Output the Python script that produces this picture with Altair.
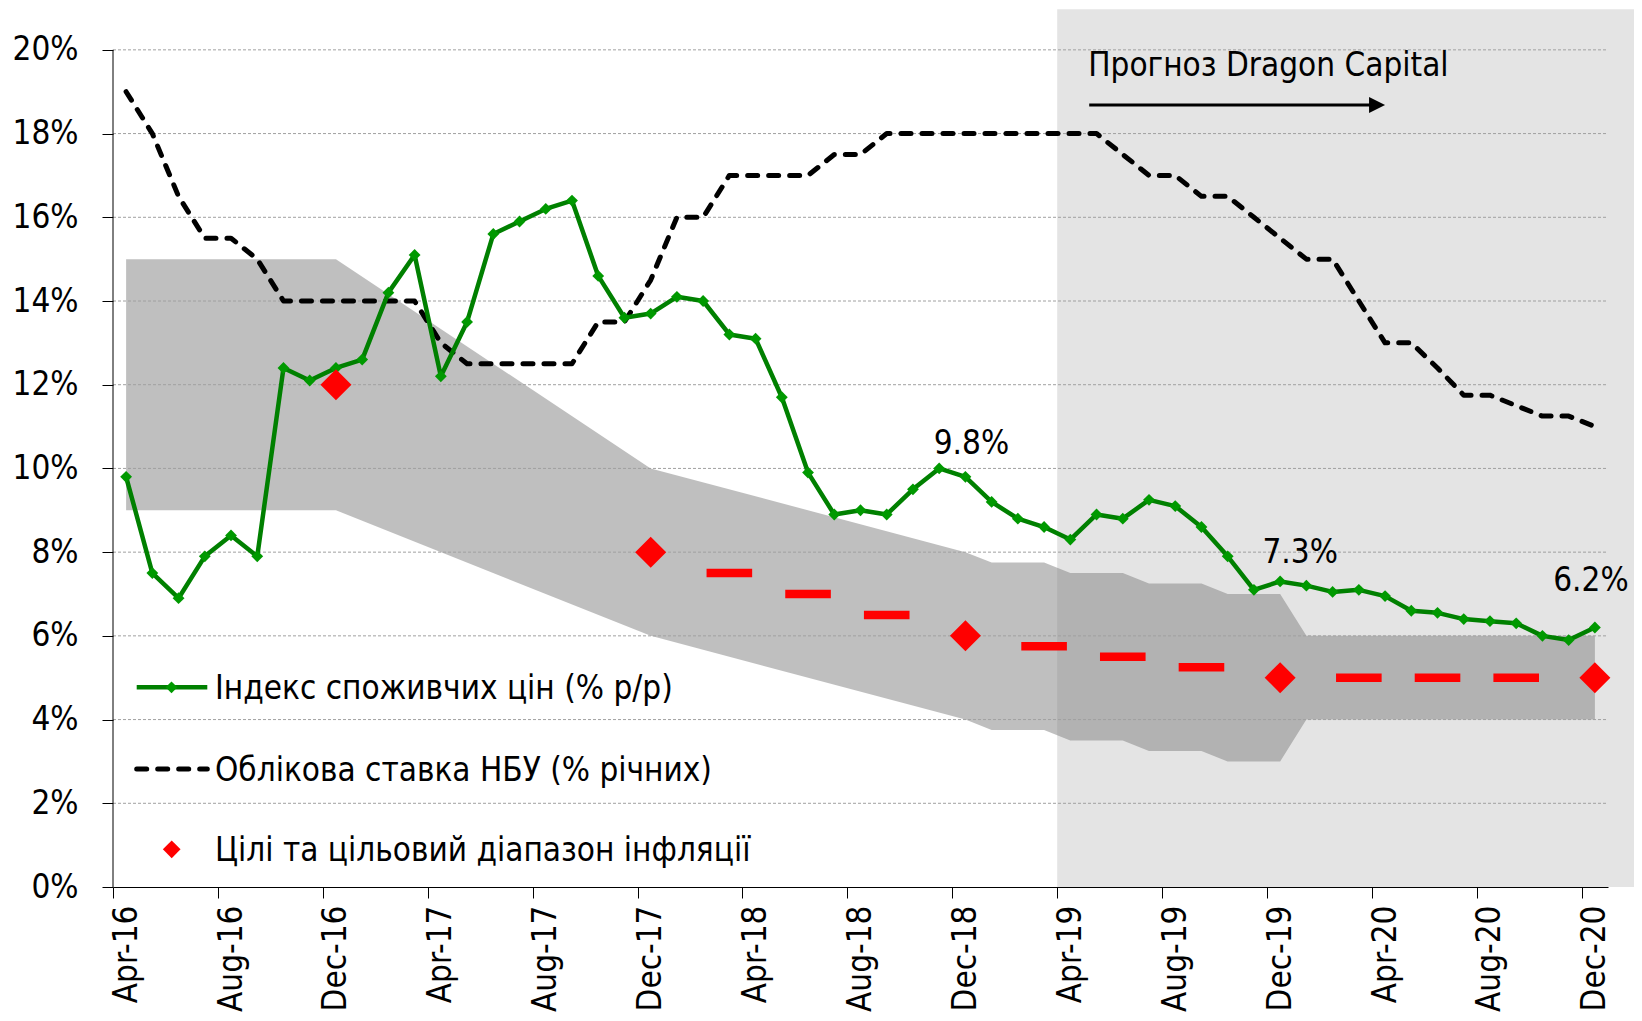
import altair as alt
import pandas as pd

FONT = "DejaVu Sans Condensed, DejaVu Sans, sans-serif"

# ---------------- data ----------------
mnames = ["Jan", "Feb", "Mar", "Apr", "May", "Jun", "Jul", "Aug", "Sep", "Oct", "Nov", "Dec"]
months = [f"{mnames[(3 + k) % 12]}-{16 + (3 + k) // 12}" for k in range(57)]  # Apr-16 .. Dec-20

cpi = [9.8, 7.5, 6.9, 7.9, 8.4, 7.9, 12.4, 12.1, 12.4,
       12.6, 14.2, 15.1, 12.2, 13.5, 15.6, 15.9, 16.2, 16.4, 14.6, 13.6, 13.7,
       14.1, 14.0, 13.2, 13.1, 11.7, 9.9, 8.9, 9.0, 8.9, 9.5, 10.0, 9.8,
       9.2, 8.8, 8.6, 8.3, 8.9, 8.8, 9.25, 9.1, 8.6, 7.9, 7.1, 7.3,
       7.2, 7.05, 7.1, 6.95, 6.6, 6.55, 6.4, 6.35, 6.3, 6.0, 5.9, 6.2]

rate = [19.0, 18.0, 16.5, 15.5, 15.5, 15.0, 14.0, 14.0, 14.0,
        14.0, 14.0, 14.0, 13.0, 12.5, 12.5, 12.5, 12.5, 12.5, 13.5, 13.5, 14.5,
        16.0, 16.0, 17.0, 17.0, 17.0, 17.0, 17.5, 17.5, 18.0, 18.0, 18.0, 18.0,
        18.0, 18.0, 18.0, 18.0, 18.0, 17.5, 17.0, 17.0, 16.5, 16.5, 16.0, 15.5,
        15.0, 15.0, 14.0, 13.0, 13.0, 12.4, 11.75, 11.75, 11.5, 11.25, 11.25, 11.0]

target_months = ["Dec-16", "Dec-17", "Dec-18", "Dec-19", "Dec-20"]
target_values = [12.0, 8.0, 6.0, 5.0, 5.0]

path_months = ["Mar-18", "Jun-18", "Sep-18", "Mar-19", "Jun-19", "Sep-19", "Mar-20", "Jun-20", "Sep-20"]
path_values = [7.5, 7.0, 6.5, 5.75, 5.5, 5.25, 5.0, 5.0, 5.0]

band_months = ["Apr-16", "Dec-16", "Dec-17", "Dec-18", "Jan-19", "Mar-19", "Apr-19", "Jun-19",
               "Jul-19", "Sep-19", "Oct-19", "Dec-19", "Jan-20", "Dec-20"]
band_upper = [15, 15, 10, 8, 7.75, 7.75, 7.5, 7.5, 7.25, 7.25, 7.0, 7.0, 6.0, 6.0]
band_lower = [9, 9, 6, 4, 3.75, 3.75, 3.5, 3.5, 3.25, 3.25, 3.0, 3.0, 4.0, 4.0]

y_ticks = [0, 2, 4, 6, 8, 10, 12, 14, 16, 18, 20]
x_tick_labels = ["Apr-16", "Aug-16", "Dec-16", "Apr-17", "Aug-17", "Dec-17", "Apr-18", "Aug-18",
                 "Dec-18", "Apr-19", "Aug-19", "Dec-19", "Apr-20", "Aug-20", "Dec-20"]

annotated = ["Dec-18", "Dec-19", "Dec-20"]
legend_labels = ["Індекс споживчих цін (% р/р)",
                 "Облікова ставка НБУ (% річних)",
                 "Цілі та цільовий діапазон інфляції"]
forecast_label = "Прогноз Dragon Capital"

# ---------------- tables ----------------
idx = {m: i for i, m in enumerate(months)}
main_df = pd.DataFrame({"m": list(range(len(months))), "month": months, "cpi": cpi, "rate": rate})
target_df = pd.DataFrame({"m": [idx[m] for m in target_months], "v": target_values})
path_df = pd.DataFrame({"m": [idx[m] for m in path_months], "v": path_values})
band_df = pd.DataFrame({"m": [idx[m] for m in band_months], "upper": band_upper, "lower": band_lower})
grid_df = pd.DataFrame({"t": y_ticks[1:]})
one = pd.DataFrame({"a": [0]})

forecast_start = idx["Apr-19"] - 0.5
arrow_end = idx["Apr-20"]

# ---------------- geometry ----------------
W, H = 1495, 879
N = len(months)
MW = W / N

xs = alt.Scale(domain=[-0.5, N - 0.5], nice=False, zero=False)
ys = alt.Scale(domain=[0, 21], nice=False, zero=False)

label_expr = "[" + ",".join(f"'{m}'" for m in months) + "][datum.value]"
x_axis = alt.Axis(values=[idx[m] for m in x_tick_labels], labelExpr=label_expr, labelAngle=-90,
                  tickOffset=-MW / 2, labelOffset=MW / 2, tickSize=11, labelPadding=7,
                  title=None, grid=False, labelOverlap=False, labelFont=FONT, labelFontSize=33,
                  labelColor="black", tickColor="black", domainColor="black", labelBound=False)
y_axis = alt.Axis(values=y_ticks, labelExpr="datum.value + '%'", tickSize=11, labelPadding=24,
                  domain=False, grid=False, title=None, labelFont=FONT, labelFontSize=33,
                  labelColor="black", tickColor="black", labelOverlap=False)


def X(field):
    return alt.X(f"{field}:Q", scale=xs, axis=x_axis)


def Y(field):
    return alt.Y(f"{field}:Q", scale=ys, axis=y_axis)


def XD(v):
    return alt.XDatum(v, type="quantitative", scale=xs, axis=x_axis)


def YD(v):
    return alt.YDatum(v, type="quantitative", scale=ys, axis=y_axis)


GREEN = "#008000"
GREEN_PT = "#009900"
RED = "#ff0000"

layers = []

# forecast background
layers.append(alt.Chart(one).mark_rect(color="#e4e4e4").encode(
    x=XD(forecast_start), x2=alt.value(W + 26), y=YD(20.97), y2=alt.Y2Datum(0)))

# target band
layers.append(alt.Chart(band_df).mark_area(color="#808080", opacity=0.5).encode(
    x=X("m"), y=Y("upper"), y2="lower:Q"))

# grid lines
layers.append(alt.Chart(grid_df).mark_rule(color="#a0a0a0", strokeDash=[3, 2], strokeWidth=1).encode(
    y=Y("t"), x=alt.value(0), x2=alt.value(W)))

# y axis line
layers.append(alt.Chart(one).mark_rule(color="black", strokeWidth=1).encode(
    x=alt.value(0), y=YD(y_ticks[-1]), y2=alt.Y2Datum(0)))

# key rate
layers.append(alt.Chart(main_df).mark_line(color="black", strokeWidth=5, strokeDash=[10, 11],
                                           strokeCap="round", strokeJoin="round").encode(
    x=X("m"), y=Y("rate")))

# CPI
layers.append(alt.Chart(main_df).mark_line(color=GREEN, strokeWidth=4.5, strokeJoin="round").encode(
    x=X("m"), y=Y("cpi")))
layers.append(alt.Chart(main_df).mark_point(shape="diamond", filled=True, size=140, color=GREEN_PT,
                                            opacity=1).encode(x=X("m"), y=Y("cpi")))

# targets
layers.append(alt.Chart(path_df).mark_tick(orient="horizontal", size=45.6, thickness=8.6, color=RED,
                                           opacity=1).encode(x=X("m"), y=Y("v")))
layers.append(alt.Chart(target_df).mark_point(shape="diamond", filled=True, size=961, color=RED,
                                              opacity=1).encode(x=X("m"), y=Y("v")))

# value annotations
offsets = {"Dec-18": (6, -23), "Dec-19": (20, -18), "Dec-20": (-4, -36)}
for lab in annotated:
    dx, dy = offsets[lab]
    layers.append(alt.Chart(main_df).transform_filter(alt.datum.month == lab).transform_calculate(
        txt="format(datum.cpi, '.1f') + '%'").mark_text(
        font=FONT, fontSize=33, color="black", align="center", baseline="alphabetic", dx=dx, dy=dy
    ).encode(x=X("m"), y=Y("cpi"), text="txt:N"))

# forecast label and arrow
layers.append(alt.Chart(one).mark_text(text=forecast_label, font=FONT, fontSize=33, color="black",
                                       align="left", baseline="alphabetic", dx=31, dy=26).encode(
    x=XD(forecast_start), y=YD(20)))
layers.append(alt.Chart(one).mark_rule(color="black", strokeWidth=3, xOffset=32, x2Offset=-14).encode(
    x=XD(forecast_start), x2=alt.X2Datum(arrow_end), y=alt.value(97)))
layers.append(alt.Chart(one).mark_point(shape="M-1,-1L1,0L-1,1Z", size=256, filled=True, color="black",
                                        opacity=1, xOffset=-8).encode(
    x=XD(arrow_end), y=alt.value(97)))

# legend (drawn inside plot)
LX0, LX1, LMID, LTX = 23.7, 94.3, 58.5, 102
rows = [679.3, 761.0, 841.3]
layers.append(alt.Chart(one).mark_rule(color=GREEN, strokeWidth=4.5).encode(
    x=alt.value(LX0), x2=alt.value(LX1), y=alt.value(rows[0])))
layers.append(alt.Chart(one).mark_point(shape="diamond", filled=True, size=140, color=GREEN_PT,
                                        opacity=1).encode(x=alt.value(LMID), y=alt.value(rows[0])))
layers.append(alt.Chart(one).mark_rule(color="black", strokeWidth=5, strokeDash=[10, 11],
                                       strokeCap="round").encode(
    x=alt.value(LX0), x2=alt.value(LX1), y=alt.value(rows[1])))
layers.append(alt.Chart(one).mark_point(shape="diamond", filled=True, size=313, color=RED,
                                        opacity=1).encode(x=alt.value(LMID + 0.2), y=alt.value(rows[2])))
for lab, ry in zip(legend_labels, rows):
    layers.append(alt.Chart(one).mark_text(text=lab, font=FONT, fontSize=33, color="black",
                                           align="left", baseline="alphabetic").encode(
        x=alt.value(LTX), y=alt.value(ry + 12)))

chart = alt.layer(*layers).properties(
    width=W, height=H,
    padding={"left": 105, "top": 0, "right": 26, "bottom": 126},
    autosize=alt.AutoSizeParams(type="none"),
    background="white",
).configure(font=FONT).configure_view(stroke=None)

chart.save("out.html", embed_options={"renderer": "svg", "actions": False})
